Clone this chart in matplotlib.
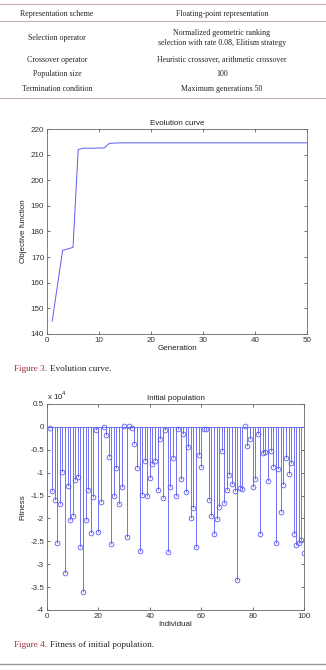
import numpy as np
import matplotlib
matplotlib.use('Agg')
import matplotlib.pyplot as plt
from matplotlib.lines import Line2D
from matplotlib.ticker import FuncFormatter

# table contents
param_names = ['Representation scheme', 'Selection operator', 'Crossover operator',
               'Population size', 'Termination condition']
param_values = ['Floating-point representation',
                'Normalized geometric ranking\nselection with rate 0.08, Elitism strategy',
                'Heuristic crossover, arithmetic crossover',
                '100',
                'Maximum generations 50']

# Figure 3: best objective per generation
generation = np.arange(1, 51)
objective = [145.0, 158.8, 172.6, 173.2, 173.8, 212.0, 212.5, 212.5, 212.5, 212.6,
             212.6, 214.4, 214.5, 214.6, 214.6, 214.6, 214.6, 214.6, 214.6, 214.6,
             214.6, 214.6, 214.6, 214.6, 214.6, 214.6, 214.6, 214.6, 214.6, 214.6,
             214.6, 214.6, 214.6, 214.6, 214.6, 214.6, 214.6, 214.6, 214.6, 214.6,
             214.6, 214.6, 214.6, 214.6, 214.6, 214.6, 214.6, 214.6, 214.6, 214.6]

# Figure 4: fitness of initial population (x 10^4)
individual = np.arange(1, 101)
fitness_e4 = [-0.03, -1.40, -1.60, -2.53, -1.69, -0.98, -3.19, -1.30, -2.04, -1.95,
              -1.15, -1.09, -2.63, -3.61, -2.04, -1.38, -2.31, -1.53, -0.06, -2.30,
              -1.65, 0.00, -0.18, -0.66, -2.55, -1.51, -0.90, -1.69, -1.31, 0.01,
              -2.41, 0.01, -0.02, -0.37, -0.90, -2.72, -1.48, -0.74, -1.51, -1.12,
              -0.82, -0.74, -1.37, -0.26, -1.56, -0.07, -2.73, -1.31, -0.67, -1.50,
              -0.04, -1.14, -0.15, -1.42, -0.44, -1.99, -1.78, -2.62, -0.61, -0.88,
              -0.04, -0.04, -1.60, -1.95, -2.34, -2.02, -1.76, -0.53, -1.67, -1.37,
              -1.06, -1.25, -1.40, -3.34, -1.34, -1.35, 0.02, -0.42, -0.26, -1.31,
              -1.14, -0.15, -2.33, -0.57, -0.54, -1.18, -0.52, -0.87, -2.54, -0.91,
              -1.85, -1.26, -0.67, -1.03, -0.78, -2.34, -2.59, -2.54, -2.47, -2.75]

W, H = 326, 670
blue = '#5c5cf2'
red = '#a02a3c'
rule = '#c4aab2'
serif = ['Liberation Serif', 'DejaVu Serif']
plt.rcParams['font.family'] = ['Liberation Sans', 'DejaVu Sans']

fig = plt.figure(figsize=(W / 100, H / 100), dpi=100)


def fy(py):
    return 1 - py / H


# --- table ---
for py in [4, 21, 98]:
    fig.add_artist(Line2D([0, 1], [fy(py), fy(py)], color=rule, lw=0.8))
row_y = [14.5, 38, 60, 74.5, 89]
for name, val, py in zip(param_names, param_values, row_y):
    fig.text(57 / W, fy(py), name, ha='center', va='center', fontsize=5.7,
             family=serif, color='#222222')
    fig.text(222 / W, fy(py), val, ha='center', va='center', fontsize=5.7,
             family=serif, color='#222222', linespacing=1.45)


def style(ax):
    ax.tick_params(direction='in', top=True, right=True, length=2.2, width=0.5,
                   labelsize=5.8, colors='#333333', pad=2)
    for s in ax.spines.values():
        s.set_color('#666666')
        s.set_linewidth(0.6)


# --- Figure 3 ---
ax1 = fig.add_axes([47 / W, fy(334), 260 / W, 205 / H])
ax1.plot(generation, objective, color=blue, lw=0.7)
ax1.set_xlim(0, 50)
ax1.set_ylim(140, 220)
ax1.set_xticks(np.arange(0, 51, 10))
ax1.set_yticks(np.arange(140, 221, 10))
ax1.set_title('Evolution curve', fontsize=5.8, color='#222222', pad=3)
ax1.set_xlabel('Generation', fontsize=5.8, color='#222222', labelpad=1)
ax1.set_ylabel('Objective function', fontsize=5.8, color='#222222', labelpad=3)
style(ax1)

fig.text(14 / W, fy(369), 'Figure 3.', fontsize=6.6, family=serif, color=red,
         va='center')
fig.text(50.5 / W, fy(369), 'Evolution curve.', fontsize=6.6, family=serif,
         color='#222222', va='center')

# --- Figure 4 ---
ax2 = fig.add_axes([47 / W, fy(610), 257 / W, 206 / H])
markerline, stemlines, baseline = ax2.stem(individual, fitness_e4)
plt.setp(markerline, marker='o', markersize=3.4, markerfacecolor='none',
         markeredgecolor=blue, markeredgewidth=0.6)
stemlines.set_color(blue)
stemlines.set_linewidth(0.6)
plt.setp(baseline, color=blue, linewidth=0.6)
ax2.set_xlim(0, 100)
ax2.set_ylim(-4, 0.5)
ax2.set_xticks(np.arange(0, 101, 20))
ax2.set_yticks(np.arange(-4, 0.51, 0.5))
ax2.yaxis.set_major_formatter(FuncFormatter(lambda v, p: '%g' % v))
ax2.set_title('Initial population', fontsize=5.8, color='#222222', pad=3)
ax2.text(0, 1.01, r'x 10$^4$', transform=ax2.transAxes, fontsize=5.6,
         color='#222222', va='bottom', ha='left')
ax2.set_xlabel('Individual', fontsize=5.8, color='#222222', labelpad=1)
ax2.set_ylabel('Fitness', fontsize=5.8, color='#222222', labelpad=3)
style(ax2)

fig.text(14 / W, fy(645), 'Figure 4.', fontsize=6.6, family=serif, color=red,
         va='center')
fig.text(50.5 / W, fy(645), 'Fitness of initial population.', fontsize=6.6,
         family=serif, color='#222222', va='center')

fig.add_artist(Line2D([0, 1], [fy(664), fy(664)], color='#999999', lw=1.0))

fig.savefig('out.png', dpi=100)
